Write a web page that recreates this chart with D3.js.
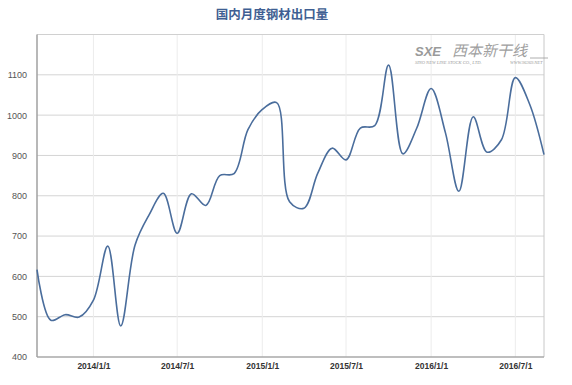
<!DOCTYPE html>
<html><head><meta charset="utf-8">
<script src="https://cdn.jsdelivr.net/npm/d3@7/dist/d3.min.js"></script>
<style>body{margin:0;background:#fff;}svg{display:block;}</style>
</head><body>
<svg id="c" width="572" height="385"></svg>
<script>
const title = "国内月度钢材出口量";
const months = ["2013-09","2013-10","2013-11","2013-12","2014-01","2014-02","2014-03","2014-04","2014-05","2014-06","2014-07","2014-08","2014-09","2014-10","2014-11","2014-12","2015-01","2015-02","2015-03","2015-04","2015-05","2015-06","2015-07","2015-08","2015-09","2015-10","2015-11","2015-12","2016-01","2016-02","2016-03","2016-04","2016-05","2016-06","2016-07","2016-08","2016-09"];
const exports = [617,491,505,499,541,675,477,678,752,806,707,805,776,850,855,964,1014,1031,785,769,856,918,889,968,974,1124,904,968,1066,956,811,996,908,939,1093,1027,902];
const yTicks = [400,500,600,700,800,900,1000,1100];
const xTicks = ["2014-01-01","2014-07-01","2015-01-01","2015-07-01","2016-01-01","2016-07-01"];

const svg = d3.select("#c");
const L=37, R=544, T=34.5, B=357;
const parse = d3.timeParse("%Y-%m");
const parseD = d3.timeParse("%Y-%m-%d");
const x = d3.scaleTime().domain([parse(months[0]), parse(months[months.length-1])]).range([L,R]);
const y = d3.scaleLinear().domain([400,1200]).range([B,T]);

// horizontal grid
svg.append("g").selectAll("line").data(yTicks.slice(1)).join("line")
  .attr("x1",L).attr("x2",R).attr("y1",d=>y(d)).attr("y2",d=>y(d))
  .attr("stroke","#d4d4d4").attr("stroke-width",1);
// vertical grid
svg.append("g").selectAll("line").data(xTicks).join("line")
  .attr("x1",d=>x(parseD(d))).attr("x2",d=>x(parseD(d))).attr("y1",T).attr("y2",B)
  .attr("stroke","#ececec").attr("stroke-width",1);
// border
svg.append("line").attr("x1",L).attr("x2",R).attr("y1",T).attr("y2",T).attr("stroke","#d0d0d0");
svg.append("line").attr("x1",R).attr("x2",R).attr("y1",T).attr("y2",B).attr("stroke","#c8c8c8");
svg.append("line").attr("x1",L).attr("x2",R).attr("y1",B).attr("y2",B).attr("stroke","#a8a8a8").attr("stroke-width",1.5);
svg.append("line").attr("x1",L).attr("x2",L).attr("y1",T).attr("y2",B).attr("stroke","#a0a0a0").attr("stroke-width",1.5);

// y axis labels
const yAxis = d3.axisLeft(y).tickValues(yTicks).tickFormat(d3.format("d")).tickSize(0).tickPadding(10);
const gy = svg.append("g").attr("transform",`translate(${L},0)`).call(yAxis);
gy.select(".domain").remove();
gy.selectAll("text").attr("font-family","Liberation Sans, Arial, sans-serif").attr("font-size","9px").attr("fill","#555");

// x axis labels
const xAxis = d3.axisBottom(x).tickValues(xTicks.map(parseD)).tickFormat(d3.timeFormat("%Y/%-m/%-d")).tickSize(0).tickPadding(6);
const gx = svg.append("g").attr("transform",`translate(0,${B})`).call(xAxis);
gx.select(".domain").remove();
gx.selectAll("text").attr("font-family","Liberation Sans, Arial, sans-serif").attr("font-size","8.5px").attr("font-weight","bold").attr("fill","#333");

// watermark
const wm = svg.append("g").attr("fill","#9a9a9a");
wm.append("text").attr("x",415).attr("y",56).attr("font-family","Liberation Sans, Arial, sans-serif").attr("font-size","13px").attr("font-weight","bold").attr("font-style","italic").text("SXE");
wm.append("text").attr("x",452).attr("y",56).attr("font-family","Noto Sans CJK SC").attr("font-size","15px").attr("font-style","italic").attr("fill","#a0a0a0").text("西本新干线");
wm.append("text").attr("x",415).attr("y",64).attr("font-family","Liberation Serif, serif").attr("font-size","4.5px").attr("font-style","italic").text("SINO NEW LINE STOCK CO., LTD.");
wm.append("text").attr("x",510).attr("y",64).attr("font-family","Liberation Serif, serif").attr("font-size","4.5px").attr("font-style","italic").text("WWW.96369.NET");
wm.append("line").attr("x1",530).attr("x2",548).attr("y1",58).attr("y2",58).attr("stroke","#9a9a9a").attr("stroke-width",0.8);

// line
const line = d3.line().x((d,i)=>x(parse(months[i]))).y(d=>y(d)).curve(d3.curveCatmullRom.alpha(0.5));
svg.append("path").datum(exports).attr("d",line).attr("fill","none").attr("stroke","#4a6d9c").attr("stroke-width",1.6);

// title
svg.append("text").attr("x",272).attr("y",19).attr("text-anchor","middle")
  .attr("font-family","Noto Sans CJK SC").attr("font-size","12.5px").attr("font-weight","bold")
  .attr("fill","#3f5f93").text(title);
</script>
</body></html>
